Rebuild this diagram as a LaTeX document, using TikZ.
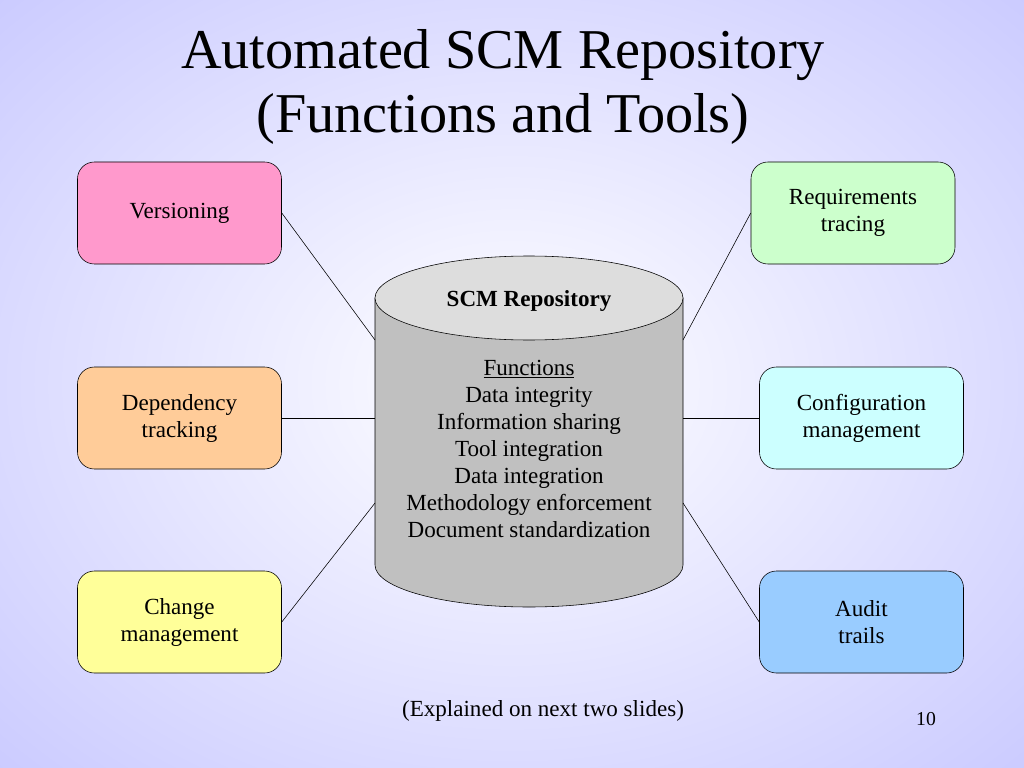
\documentclass[tikz,border=0pt]{standalone}
\usepackage{fontspec}
\setmainfont{Liberation Serif}
\usetikzlibrary{positioning}
\definecolor{bgedge}{RGB}{200,200,255}
\definecolor{pinkbox}{RGB}{255,153,204}
\definecolor{orangebox}{RGB}{255,204,153}
\definecolor{yellowbox}{RGB}{255,255,153}
\definecolor{greenbox}{RGB}{204,255,204}
\definecolor{cyanbox}{RGB}{204,255,255}
\definecolor{bluebox}{RGB}{153,204,255}
\definecolor{cylside}{RGB}{192,192,192}
\definecolor{cyltop}{RGB}{221,221,221}
\tikzset{
  func/.style={draw, rounded corners=12pt, minimum width=204*0.025cm,
    minimum height=102*0.025cm, align=center, font=\fontsize{16.4}{19.2}\selectfont},
  link/.style={draw, thin}
}
\begin{document}
\begin{tikzpicture}[x=0.025cm, y=-0.025cm]
\useasboundingbox (0,0) rectangle (1024,768);
\shade[inner color=white, outer color=bgedge] (-250,-200) rectangle (1274,968);

% title
\node[font=\fontsize{40}{45}\selectfont, align=center] (title) at (503,87)
  {Automated SCM Repository\\(Functions and Tools)};

% function boxes
\node[func, fill=pinkbox]   (vers) at (179.5,213) {Versioning};
\node[func, fill=orangebox] (dep)  at (179.5,418) {Dependency\\tracking};
\node[func, fill=yellowbox] (chg)  at (179.5,622) {Change\\management};
\node[func, fill=greenbox]  (req)  at (853,213)   {Requirements\\tracing};
\node[func, fill=cyanbox]   (conf) at (861.5,418) {Configuration\\management};
\node[func, fill=bluebox]   (aud)  at (861.5,622) {Audit\\trails};

% repository cylinder
\filldraw[fill=cylside] (375,298) -- (375,565) arc[start angle=180, end angle=360, x radius=154, y radius=-42]
  -- (683,298) -- cycle;
\filldraw[fill=cyltop] (529,298) ellipse[x radius=154, y radius=42];
\node[font=\fontsize{16.4}{19.2}\selectfont\bfseries] (repo) at (529,301) {SCM Repository};
\node[font=\fontsize{16.4}{19.2}\selectfont, align=center] (fun) at (529,449)
  {\underline{Functions}\\Data integrity\\Information sharing\\Tool integration\\Data integration\\Methodology enforcement\\Document standardization};

\coordinate (lt) at (375,340);
\coordinate (lm) at (375,418);
\coordinate (lb) at (375,503);
\coordinate (rt) at (683,340);
\coordinate (rm) at (683,418);
\coordinate (rb) at (683,503);

\draw[link] (vers.east) -- (lt);
\draw[link] (dep.east) -- (lm);
\draw[link] (chg.east) -- (lb);
\draw[link] (req.west) -- (rt);
\draw[link] (conf.west) -- (rm);
\draw[link] (aud.west) -- (rb);

\node[font=\fontsize{16.4}{19.2}\selectfont] (note) at (543,711) {(Explained on next two slides)};
\node[font=\fontsize{14}{17}\selectfont] (page) at (926,719) {10};
\end{tikzpicture}
\end{document}
